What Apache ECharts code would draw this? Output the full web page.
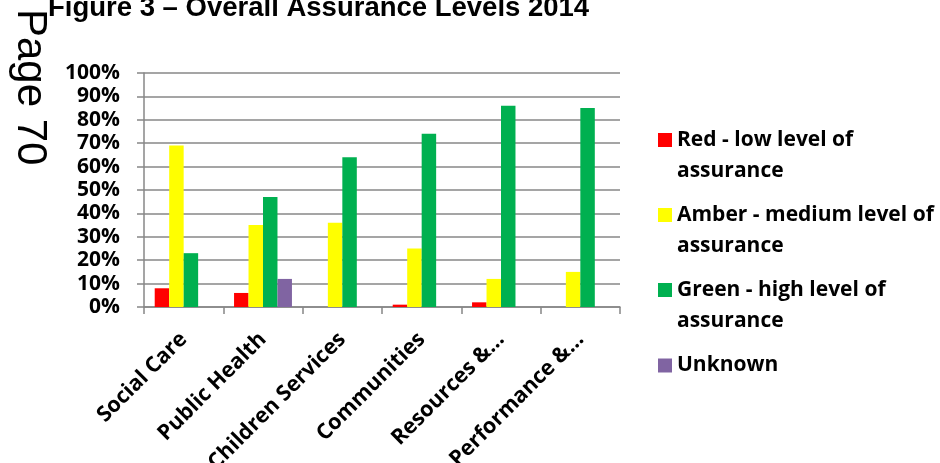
<!DOCTYPE html>
<html>
<head>
<meta charset="utf-8">
<script src="https://cdn.jsdelivr.net/npm/echarts@6/dist/echarts.min.js"></script>
<style>
html,body{margin:0;padding:0;background:#fff;}
#chart{width:940px;height:463px;}
</style>
</head>
<body>
<div id="chart"></div>
<script>
const categories = ['Social Care', 'Public Health', 'Children Services', 'Communities', 'Resources &\u2026', 'Performance &\u2026'];
const redValues = [8, 6, 0, 1, 2, 0];
const amberValues = [69, 35, 36, 25, 12, 15];
const greenValues = [23, 47, 64, 74, 86, 85];
const unknownValues = [0, 12, 0, 0, 0, 0];
const seriesNames = ['Red - low level of\nassurance', 'Amber - medium level of\nassurance', 'Green - high level of\nassurance', 'Unknown'];
const seriesColors = ['#FF0000', '#FFFF00', '#00B050', '#8064A2'];
const yTicks = [0, 10, 20, 30, 40, 50, 60, 70, 80, 90, 100];
const titleText = 'Figure 3 \u2013 Overall Assurance Levels 2014';
const pageText = 'Page 70';

const chart = echarts.init(document.getElementById('chart'), null, {renderer: 'canvas'});
const values = [redValues, amberValues, greenValues, unknownValues];
const lbl = {fontFamily: 'Open Sans', fontWeight: 'bold', fontSize: 21, color: '#000'};
const legendTops = [93.5, 168.5, 243.5, 350];

const option = {
  animation: false,
  backgroundColor: '#fff',
  grid: {left: 144, right: 320, top: 73, bottom: 156, containLabel: false, outerBoundsMode: 'none'},
  xAxis: {
    type: 'category',
    data: categories,
    boundaryGap: true,
    axisLine: {lineStyle: {color: '#878787', width: 1.5}},
    axisTick: {show: true, length: 7, alignWithLabel: false, lineStyle: {color: '#878787', width: 1.5}},
    axisLabel: Object.assign({}, lbl, {rotate: 45, margin: 29, interval: 0, fontSize: 21.5})
  },
  yAxis: {
    type: 'value',
    min: yTicks[0],
    max: yTicks[yTicks.length - 1],
    interval: 10,
    axisLine: {show: true, lineStyle: {color: '#878787', width: 1.5}},
    axisTick: {show: true, length: 7, lineStyle: {color: '#878787', width: 1.5}},
    splitLine: {show: true, lineStyle: {color: '#878787', width: 1.5}},
    axisLabel: Object.assign({margin: 24, formatter: v => v + '%'}, lbl)
  },
  legend: seriesNames.map((n, i) => ({
    data: [n],
    orient: 'vertical',
    left: 658,
    top: legendTops[i],
    padding: 0,
    itemWidth: 14,
    itemHeight: 14,
    itemGap: 0,
    itemStyle: {borderWidth: 0},
    icon: 'rect',
    selectedMode: false,
    formatter: name => (name.indexOf('\n') >= 0 ? '\n' + name : name),
    textStyle: Object.assign({}, lbl, {lineHeight: 31, fontSize: 21})
  })),
  series: seriesNames.map((n, i) => ({
    name: n,
    type: 'bar',
    data: values[i],
    barGap: '0%',
    barCategoryGap: '27%',
    itemStyle: {color: seriesColors[i]}
  })),
  graphic: [
    {
      type: 'text',
      left: 48,
      top: -6,
      style: {text: titleText, fontFamily: 'Liberation Sans', fontWeight: 'bold', fontSize: 27.5, fill: '#000'}
    },
    {
      type: 'text',
      x: 29.5,
      y: 9,
      rotation: -Math.PI / 2,
      style: {text: pageText, fontFamily: 'Liberation Sans', fontSize: 42, fill: '#000', align: 'left', verticalAlign: 'middle'}
    }
  ]
};
chart.setOption(option);
</script>
</body>
</html>
